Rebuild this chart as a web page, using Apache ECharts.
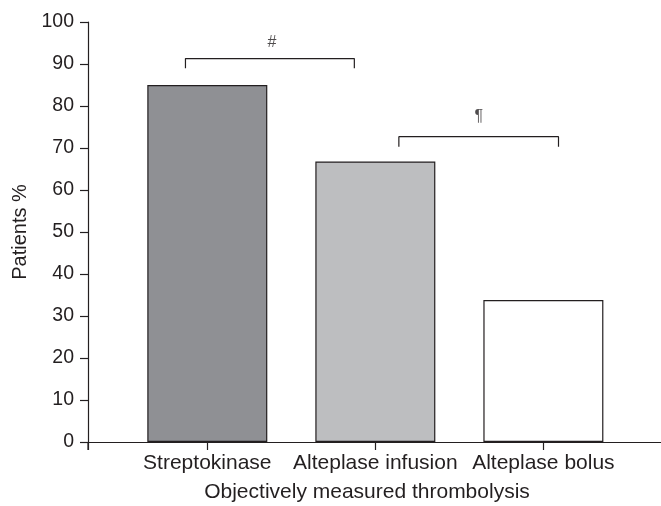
<!DOCTYPE html>
<html><head><meta charset="utf-8">
<script src="https://cdn.jsdelivr.net/npm/echarts@6/dist/echarts.min.js"></script>
<style>html,body{margin:0;padding:0;background:#fff}#c{width:661px;height:506px}</style>
</head><body><div id="c"></div>
<script>
const categories = ['Streptokinase', 'Alteplase infusion', 'Alteplase bolus'];
const values = [85, 66.8, 33.8];
const barColors = ['#8f9094', '#bdbec0', '#ffffff'];
const yTicks = [0, 10, 20, 30, 40, 50, 60, 70, 80, 90, 100];
const bracket1 = [[0.87, 89], [0.87, 91.3], [1.875, 91.3], [1.875, 89]];
const bracket2 = [[2.14, 70.3], [2.14, 72.7], [3.09, 72.7], [3.09, 70.3]];
const marks = [[1.385, 95.2, '#'], [2.615, 77.5, '¶']];

const font = 'Liberation Sans, Arial, Helvetica, sans-serif';
const chart = echarts.init(document.getElementById('c'));
const positions = categories.map((c, i) => i + 1);
const xMin = 0.29, xMax = 3.70;
chart.setOption({
  animation: false,
  grid: {left: 88, right: 0, top: 22, bottom: 64, containLabel: false, outerBoundsMode: 'none'},
  xAxis: {
    type: 'value', min: xMin, max: xMax,
    splitLine: {show: false},
    axisLine: {show: true, lineStyle: {color: '#231f20', width: 1.2}},
    axisTick: {show: true, length: 8, lineStyle: {color: '#231f20', width: 1.2}, customValues: [xMin].concat(positions)},
    axisLabel: {customValues: positions, formatter: v => categories[Math.round(v) - 1] || '', color: '#231f20', fontFamily: font, fontSize: 21, margin: 11},
    name: 'Objectively measured thrombolysis', nameLocation: 'middle', nameGap: 40,
    nameTextStyle: {color: '#231f20', fontFamily: font, fontSize: 21, padding: [0, 15, 0, 0]}
  },
  yAxis: {
    type: 'value', min: 0, max: 100, interval: 10,
    splitLine: {show: false},
    axisLine: {show: true, lineStyle: {color: '#231f20', width: 1.2}},
    axisTick: {show: true, length: 8, lineStyle: {color: '#231f20', width: 1.2}},
    axisLabel: {color: '#231f20', fontFamily: font, fontSize: 19.5, margin: 14},
    name: 'Patients %', nameLocation: 'middle', nameGap: 47,
    nameTextStyle: {color: '#231f20', fontFamily: font, fontSize: 20}
  },
  series: [
    {
      type: 'bar', barWidth: 120,
      data: values.map((v, i) => ({value: [positions[i], v], itemStyle: {color: barColors[i]}})),
      itemStyle: {borderColor: '#231f20', borderWidth: 1.2}
    },
    {type: 'line', data: bracket1, symbol: 'none', lineStyle: {color: '#231f20', width: 1.2}},
    {type: 'line', data: bracket2, symbol: 'none', lineStyle: {color: '#231f20', width: 1.2}},
    {
      type: 'scatter', symbolSize: 0,
      data: marks.map(m => ({value: [m[0], m[1]], label: {show: true, formatter: m[2], position: 'inside', color: '#231f20', fontFamily: font, fontSize: 16}}))
    }
  ]
});
// y-axis extends slightly below the x axis
const p0 = chart.convertToPixel({gridIndex: 0}, [xMin, 0]);
chart.setOption({graphic: [{type: 'line', shape: {x1: p0[0], y1: p0[1], x2: p0[0], y2: p0[1] + 8}, style: {stroke: '#231f20', lineWidth: 1.2}}]});
</script></body></html>
